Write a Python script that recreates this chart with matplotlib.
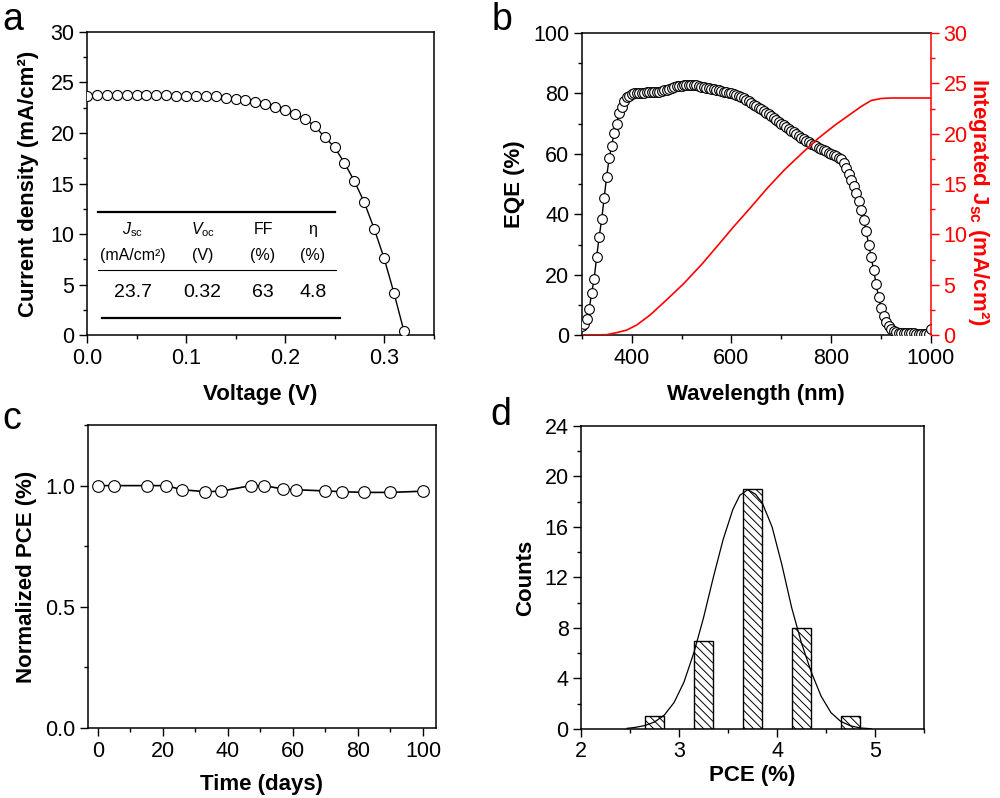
import numpy as np
import matplotlib
matplotlib.use('Agg')
import matplotlib.pyplot as plt
from matplotlib.ticker import MultipleLocator
from matplotlib.lines import Line2D

plt.rcParams['font.family'] = ['Liberation Sans', 'DejaVu Sans']
plt.rcParams['mathtext.fontset'] = 'custom'
plt.rcParams['mathtext.rm'] = 'Liberation Sans'
plt.rcParams['mathtext.it'] = 'Liberation Sans:italic'
plt.rcParams['mathtext.bf'] = 'Liberation Sans:bold'
plt.rcParams['axes.linewidth'] = 1.1
plt.rcParams['xtick.direction'] = 'out'
plt.rcParams['ytick.direction'] = 'out'
plt.rcParams['xtick.major.size'] = 5.5
plt.rcParams['ytick.major.size'] = 5.5
plt.rcParams['xtick.minor.size'] = 3
plt.rcParams['ytick.minor.size'] = 3
plt.rcParams['xtick.major.width'] = 1.0
plt.rcParams['ytick.major.width'] = 1.0
plt.rcParams['xtick.minor.width'] = 1.0
plt.rcParams['ytick.minor.width'] = 1.0
plt.rcParams['xtick.labelsize'] = 15.5
plt.rcParams['ytick.labelsize'] = 15.5
plt.rcParams['hatch.color'] = '#555555'
plt.rcParams['hatch.linewidth'] = 0.7

# ---- panel a: J-V curve
voltage = [0.00, 0.01, 0.02, 0.03, 0.04, 0.05, 0.06, 0.07, 0.08, 0.09, 0.10,
           0.11, 0.12, 0.13, 0.14, 0.15, 0.16, 0.17, 0.18, 0.19, 0.20, 0.21,
           0.22, 0.23, 0.24, 0.25, 0.26, 0.27, 0.28, 0.29, 0.30, 0.31, 0.32]
current = [23.70, 23.74, 23.74, 23.74, 23.73, 23.73, 23.72, 23.72, 23.71, 23.70, 23.69,
           23.68, 23.66, 23.62, 23.50, 23.38, 23.22, 23.08, 22.85, 22.62, 22.30, 21.90,
           21.40, 20.70, 19.60, 18.60, 17.05, 15.25, 13.15, 10.55, 7.65, 4.20, 0.45]
table_head1 = [r'$\mathit{J}_{\mathrm{sc}}$', r'$\mathit{V}_{\mathrm{oc}}$', 'FF', 'η']
table_head2 = ['(mA/cm²)', '(V)', '(%)', '(%)']
table_vals = ['23.7', '0.32', '63', '4.8']

# ---- panel b: EQE and integrated Jsc
wavelength = list(range(300, 1005, 5))
eqe = [3.0, 3.6, 5.5, 8.6, 14.0, 18.7, 26.0, 32.5, 38.3, 45.3,
       52.5, 58.5, 62.6, 67.0, 70.0, 73.5, 75.5, 77.5, 78.7, 79.3,
       79.7, 80.0, 80.1, 80.2, 80.2, 80.3, 80.4, 80.4, 80.4, 80.5,
       80.5, 80.6, 80.8, 81.0, 81.2, 81.6, 81.9, 82.2, 82.4, 82.5,
       82.6, 82.7, 82.8, 82.9, 82.9, 82.8, 82.7, 82.5, 82.3, 82.1,
       81.9, 81.7, 81.5, 81.4, 81.2, 81.0, 80.8, 80.6, 80.4, 80.2,
       80.0, 79.7, 79.4, 79.1, 78.8, 78.4, 77.9, 77.4, 76.9, 76.3,
       75.8, 75.3, 74.8, 74.2, 73.6, 73.1, 72.5, 71.8, 71.2, 70.5,
       69.9, 69.4, 68.9, 68.3, 67.7, 67.2, 66.6, 66.0, 65.4, 64.8,
       64.2, 63.8, 63.3, 62.9, 62.5, 62.0, 61.6, 61.2, 60.8, 60.4,
       60.0, 59.6, 59.2, 58.8, 58.2, 57.0, 55.3, 53.3, 51.5, 49.5,
       47.0, 44.5, 41.5, 38.0, 34.5, 30.0, 26.0, 21.5, 17.0, 12.5,
       9.0, 6.5, 4.5, 3.0, 2.0, 1.4, 1.0, 0.8, 0.7, 0.6,
       0.6, 0.6, 0.6, 0.6, 0.5, 0.5, 0.5, 0.5, 0.5, 0.5,
       2.0]
jsc_wl = [300, 350, 370, 390, 410, 437, 470, 504, 540, 571, 605, 639, 672,
          706, 740, 773, 806, 840, 860, 880, 900, 920, 1000]
jsc_int = [0.0, 0.05, 0.25, 0.5, 1.0, 2.0, 3.5, 5.1, 7.0, 8.8, 10.8, 12.7, 14.6,
           16.4, 18.0, 19.5, 20.8, 22.0, 22.7, 23.3, 23.5, 23.55, 23.55]

# ---- panel c: stability
days = [0, 5, 15, 21, 26, 33, 38, 47, 51, 57, 61, 70, 75, 82, 90, 100]
norm_pce = [1.0, 1.0, 1.0, 1.0, 0.983, 0.975, 0.977, 1.0, 1.0, 0.986, 0.983,
            0.978, 0.975, 0.972, 0.972, 0.977]

# ---- panel d: PCE histogram
pce_bins = [2.75, 3.25, 3.75, 4.25, 4.75]
counts = [1, 7, 19, 8, 1]
fit_x = [2.47, 2.55, 2.65, 2.75, 2.85, 2.95, 3.05, 3.15, 3.25, 3.35, 3.45, 3.55,
         3.62, 3.70, 3.78, 3.85, 3.95, 4.05, 4.15, 4.25, 4.35, 4.45, 4.55, 4.65,
         4.75, 4.85, 4.96]
fit_y = [0.05, 0.12, 0.27, 0.55, 1.1, 2.1, 3.7, 6.0, 8.8, 12.0, 15.0, 17.4,
         18.5, 18.95, 18.6, 17.9, 16.0, 13.0, 9.6, 6.8, 4.5, 2.6, 1.3, 0.6,
         0.25, 0.08, 0.02]

fig = plt.figure(figsize=(10, 7.98), dpi=100)


def style(ax):
    ax.tick_params(which='both', top=False, right=False)
    for s in ax.spines.values():
        s.set_linewidth(1.1)


# panel a
axa = fig.add_axes([0.087, 0.580, 0.3465, 0.380])
axa.plot(voltage, current, '-o', color='black', lw=1.0, ms=7.2, mfc='white',
         mec='black', mew=0.8, zorder=3)
axa.set_xlim(0, 0.35)
axa.set_ylim(0, 30)
axa.xaxis.set_major_locator(MultipleLocator(0.1))
axa.xaxis.set_minor_locator(MultipleLocator(0.05))
axa.yaxis.set_major_locator(MultipleLocator(5))
axa.yaxis.set_minor_locator(MultipleLocator(2.5))
axa.xaxis.set_major_formatter(plt.FormatStrFormatter('%.1f'))
axa.set_xlabel('Voltage (V)', fontsize=16, fontweight='bold', labelpad=11)
axa.set_ylabel('Current density (mA/cm²)', fontsize=16, fontweight='bold', labelpad=8)
style(axa)

# table inside panel a
tr = axa.transAxes
axa.add_line(Line2D([0.031, 0.715], [0.406, 0.406], transform=tr, color='black', lw=1.6))
axa.add_line(Line2D([0.031, 0.72], [0.2145, 0.2145], transform=tr, color='black', lw=0.8))
axa.add_line(Line2D([0.042, 0.73], [0.056, 0.056], transform=tr, color='black', lw=1.6))
col_x = [0.132, 0.334, 0.508, 0.652]
for cx, h1, h2, v in zip(col_x, table_head1, table_head2, table_vals):
    axa.text(cx, 0.347, h1, transform=tr, ha='center', va='center', fontsize=11.5)
    axa.text(cx, 0.264, h2, transform=tr, ha='center', va='center', fontsize=11.5)
    axa.text(cx, 0.142, v, transform=tr, ha='center', va='center', fontsize=14)

# panel b
axb = fig.add_axes([0.5817, 0.580, 0.3493, 0.3786])
axb.plot(wavelength, eqe, '-o', color='black', lw=1.0, ms=7, mfc='white',
         mec='black', mew=0.8, zorder=3)
axb.set_xlim(300, 1000)
axb.set_ylim(0, 100)
axb.xaxis.set_major_locator(MultipleLocator(200))
axb.xaxis.set_minor_locator(MultipleLocator(100))
axb.yaxis.set_major_locator(MultipleLocator(20))
axb.yaxis.set_minor_locator(MultipleLocator(10))
axb.set_xlabel('Wavelength (nm)', fontsize=16, fontweight='bold', labelpad=11)
axb.set_ylabel('EQE (%)', fontsize=16, fontweight='bold', labelpad=6)
style(axb)
axb.spines['right'].set_visible(False)

axb2 = axb.twinx()
axb2.plot(jsc_wl, jsc_int, color='red', lw=1.2)
axb2.set_ylim(0, 30)
axb2.yaxis.set_major_locator(MultipleLocator(5))
axb2.yaxis.set_minor_locator(MultipleLocator(2.5))
axb2.spines['right'].set_color('red')
axb2.spines['right'].set_linewidth(1.1)
axb2.spines['left'].set_visible(False)
axb2.spines['top'].set_visible(False)
axb2.spines['bottom'].set_visible(False)
axb2.tick_params(axis='y', which='both', colors='red', labelcolor='red')
axb2.set_ylabel(r'Integrated J$_{\mathbf{sc}}$ (mA/cm²)', fontsize=16,
                fontweight='bold', color='red', rotation=270, va='center', ha='center')
axb2.yaxis.set_label_coords(1.137, 0.44)

# panel c
axc = fig.add_axes([0.088, 0.0877, 0.348, 0.3797])
axc.plot(days, norm_pce, '-o', color='black', lw=1.2, ms=8.4, mfc='white',
         mec='black', mew=0.8, zorder=3)
axc.set_xlim(-3, 104)
axc.set_ylim(0, 1.25)
axc.xaxis.set_major_locator(MultipleLocator(20))
axc.xaxis.set_minor_locator(MultipleLocator(10))
axc.yaxis.set_major_locator(MultipleLocator(0.5))
axc.yaxis.set_minor_locator(MultipleLocator(0.25))
axc.yaxis.set_major_formatter(plt.FormatStrFormatter('%.1f'))
axc.set_xlabel('Time (days)', fontsize=16, fontweight='bold', labelpad=9)
axc.set_ylabel('Normalized PCE (%)', fontsize=16, fontweight='bold', labelpad=6)
style(axc)

# panel d
axd = fig.add_axes([0.581, 0.0865, 0.343, 0.3797])
axd.bar(pce_bins, counts, width=0.2, color='white', edgecolor='black', lw=1.0,
        hatch='\\\\\\\\', zorder=2)
axd.plot(fit_x, fit_y, color='black', lw=0.9, zorder=3)
axd.set_xlim(2, 5.5)
axd.set_ylim(0, 24)
axd.xaxis.set_major_locator(MultipleLocator(1))
axd.xaxis.set_minor_locator(MultipleLocator(0.5))
axd.yaxis.set_major_locator(MultipleLocator(4))
axd.yaxis.set_minor_locator(MultipleLocator(2))
axd.set_xlabel('PCE (%)', fontsize=16, fontweight='bold', labelpad=2)
axd.set_ylabel('Counts', fontsize=16, fontweight='bold', labelpad=6)
style(axd)

# panel letters
fig.text(0.002, 0.997, 'a', fontsize=27, va='top', ha='left')
fig.text(0.492, 0.997, 'b', fontsize=27, va='top', ha='left')
fig.text(0.002, 0.497, 'c', fontsize=27, va='top', ha='left')
fig.text(0.490, 0.502, 'd', fontsize=27, va='top', ha='left')

fig.savefig('out.png', dpi=100)
